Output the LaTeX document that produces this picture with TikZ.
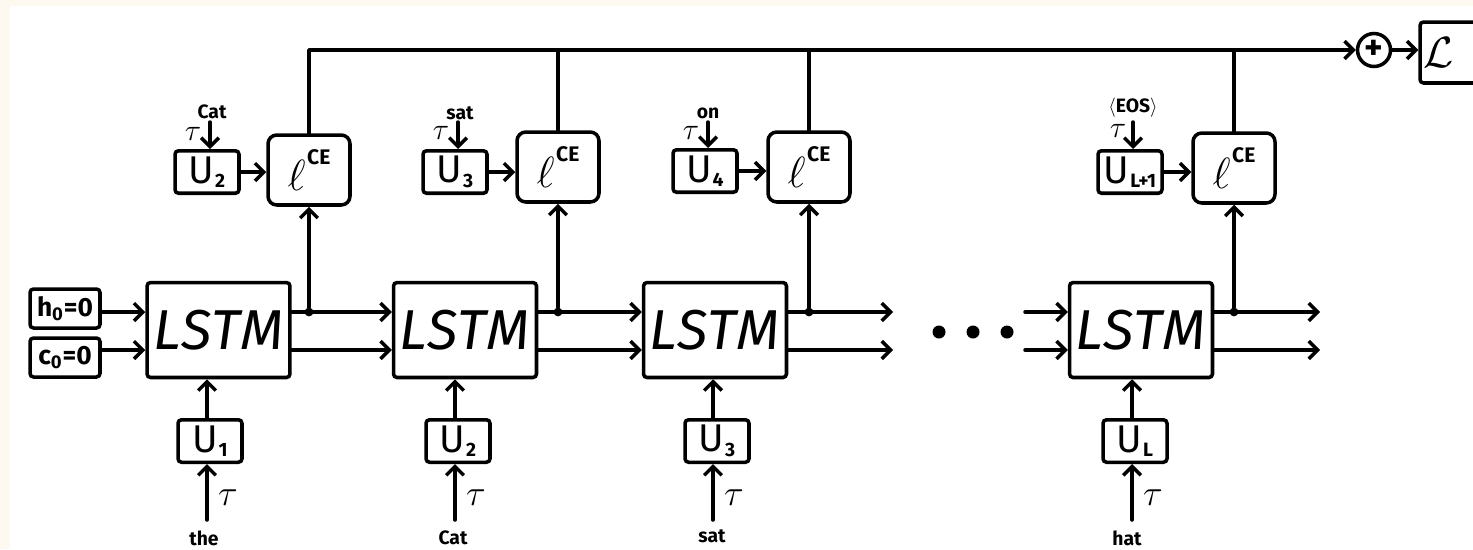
\documentclass[tikz,border=0pt]{standalone}
\usepackage{fontspec}
\setmainfont{Fira Sans}
\usetikzlibrary{arrows.meta}
\definecolor{cream}{RGB}{253,248,240}
\newcommand{\Usub}[1]{U\kern0.02em\raisebox{-0.12em}{\fontsize{11}{11}\selectfont\bfseries #1}}
\newcommand{\lce}{$\ell$\kern0.03em\raisebox{0.5em}{\fontsize{12}{12}\selectfont\bfseries CE}}
\tikzset{
 ln/.style={line width=2pt, line cap=round, line join=round},
 arr/.style={ln, -{Straight Barb[length=5pt,width=10pt]}},
 box/.style={draw, line width=2pt, rounded corners=2pt, inner sep=0pt, align=center},
 lstmbox/.style={box, minimum width=2.86cm, minimum height=1.9cm, font=\fontsize{32}{32}\selectfont},
 lcebox/.style={box, minimum width=1.64cm, minimum height=1.4cm, rounded corners=5pt, font=\fontsize{30}{30}\selectfont},
 ubox/.style={box, minimum width=1.28cm, minimum height=0.85cm, font=\fontsize{22}{22}\selectfont},
 initbox/.style={box, minimum width=1.4cm, minimum height=0.78cm, font=\fontsize{15}{15}\selectfont\bfseries},
 word/.style={font=\fontsize{11}{11}\selectfont\bfseries, inner sep=0pt},
 taulab/.style={inner sep=0pt, font=\fontsize{20}{20}\selectfont},
 tausmall/.style={inner sep=0pt, font=\fontsize{16}{16}\selectfont},
 dotc/.style={circle, fill, inner sep=0pt, minimum size=5pt},
 bigdot/.style={circle, fill, inner sep=0pt, minimum size=0.26cm},
}
\begin{document}
\begin{tikzpicture}[x=0.02cm,y=-0.02cm]
\useasboundingbox (0,0) rectangle (1473,549);
\fill[cream] (0,0) rectangle (1473,549);
\fill[white] (10,6) rectangle (1473,549);
\coordinate (hy) at (0,312);
\coordinate (cy) at (0,350);
% LSTM cells
\node[lstmbox] (lstm1) at (218.5,330) {$\mathit{LSTM}$};
\node[lstmbox] (lstm2) at (465,330) {$\mathit{LSTM}$};
\node[lstmbox] (lstm3) at (715,330) {$\mathit{LSTM}$};
\node[lstmbox] (lstm4) at (1141,330) {$\mathit{LSTM}$};
% initial states
\node[initbox] (h0) at (65,308.5) {h\textsubscript{0}=0};
\node[initbox] (c0) at (65,357.5) {c\textsubscript{0}=0};
\draw[arr] (h0.east |- hy) -- (lstm1.west |- hy);
\draw[arr] (c0.east |- cy) -- (lstm1.west |- cy);
% loss boxes
\node[lcebox] (lce1) at (309,170) {\lce};
\node[lcebox] (lce2) at (558,167) {\lce};
\node[lcebox] (lce3) at (809,167) {\lce};
\node[lcebox] (lce4) at (1234,168) {\lce};
% top target boxes
\node[ubox] (ut1) at (207,172) {\Usub{2}};
\node[ubox] (ut2) at (455,172) {\Usub{3}};
\node[ubox] (ut3) at (705,171) {\Usub{4}};
\node[ubox] (ut4) at (1130,172) {\Usub{L+1}};
\foreach \i in {1,2,3,4} { \draw[arr] (ut\i.east) -- (ut\i.east -| lce\i.west); }
% top words and tau
\node[word] (tw1) at (212,112) {Cat};
\node[word] (tw2) at (460,113) {sat};
\node[word] (tw3) at (708,113) {on};
\node[word] (tw4) at (1133,108) {$\langle$EOS$\rangle$};
\node[tausmall] (tt1) at (193,134) {$\tau$};
\node[tausmall] (tt2) at (441,133) {$\tau$};
\node[tausmall] (tt3) at (691,133) {$\tau$};
\node[tausmall] (tt4) at (1118,131) {$\tau$};
\coordinate (ti1) at (210,122);
\coordinate (ti2) at (458,122);
\coordinate (ti3) at (708,122);
\coordinate (ti4) at (1133,122);
\foreach \i in {1,2,3,4} { \draw[arr] (ti\i) -- (ti\i |- ut\i.north); }
% bottom input boxes
\node[ubox] (ub1) at (210,441) {\Usub{1}};
\node[ubox] (ub2) at (458,441) {\Usub{2}};
\node[ubox] (ub3) at (717,441) {\Usub{3}};
\node[ubox] (ub4) at (1135,441) {\Usub{L}};
\coordinate (bi1) at (207,520);
\coordinate (bi2) at (455,520);
\coordinate (bi3) at (713,520);
\coordinate (bi4) at (1132,520);
\foreach \i in {1,2,3,4} {
  \draw[arr] (bi\i) -- (bi\i |- ub\i.south);
  \draw[arr] (bi\i |- ub\i.north) -- (bi\i |- lstm\i.south);
}
\node[taulab] (bt1) at (228,498) {$\tau$};
\node[taulab] (bt2) at (476,498) {$\tau$};
\node[taulab] (bt3) at (734,498) {$\tau$};
\node[taulab] (bt4) at (1153,498) {$\tau$};
\node[word] (bw1) at (204,538) {the};
\node[word] (bw2) at (453,538) {Cat};
\node[word] (bw3) at (712,536) {sat};
\node[word] (bw4) at (1127,538) {hat};
% recurrent connections
\draw[arr] (lstm1.east |- hy) -- (lstm2.west |- hy);
\draw[arr] (lstm1.east |- cy) -- (lstm2.west |- cy);
\draw[arr] (lstm2.east |- hy) -- (lstm3.west |- hy);
\draw[arr] (lstm2.east |- cy) -- (lstm3.west |- cy);
\coordinate (e3h) at (893,312);
\coordinate (e3c) at (893,350);
\draw[arr] (lstm3.east |- hy) -- (e3h);
\draw[arr] (lstm3.east |- cy) -- (e3c);
\coordinate (s4h) at (1025,312);
\coordinate (s4c) at (1025,350);
\draw[arr] (s4h) -- (lstm4.west |- hy);
\draw[arr] (s4c) -- (lstm4.west |- cy);
\coordinate (e4h) at (1320,312);
\coordinate (e4c) at (1320,350);
\draw[arr] (lstm4.east |- hy) -- (e4h);
\draw[arr] (lstm4.east |- cy) -- (e4c);
% ellipsis
\node[bigdot] (el1) at (939,332) {};
\node[bigdot] (el2) at (973,332) {};
\node[bigdot] (el3) at (1007,332) {};
% hidden state to losses
\foreach \i in {1,2,3,4} {
  \node[dotc] (dt\i) at (lce\i.south |- hy) {};
  \draw[arr] (dt\i) -- (lce\i.south);
}
% sum and total loss
\node[draw, circle, line width=2pt, minimum size=0.66cm, inner sep=0pt, font=\fontsize{20}{20}\selectfont\bfseries] (plus) at (1374,50) {+};
\node[draw, line width=2pt, rounded corners=2pt, minimum width=1.2cm, minimum height=1.22cm, inner sep=0pt, font=\fontsize{26}{26}\selectfont] (Lbox) at (1450,52.5) {\kern-0.45cm$\mathcal{L}$};
\draw[arr] (lce1.north) |- (plus.west);
\foreach \i in {2,3,4} { \draw[ln] (lce\i.north) -- (lce\i.north |- plus.west); }
\draw[arr] (plus.east) -- (plus.east -| Lbox.west);
\end{tikzpicture}
\end{document}
